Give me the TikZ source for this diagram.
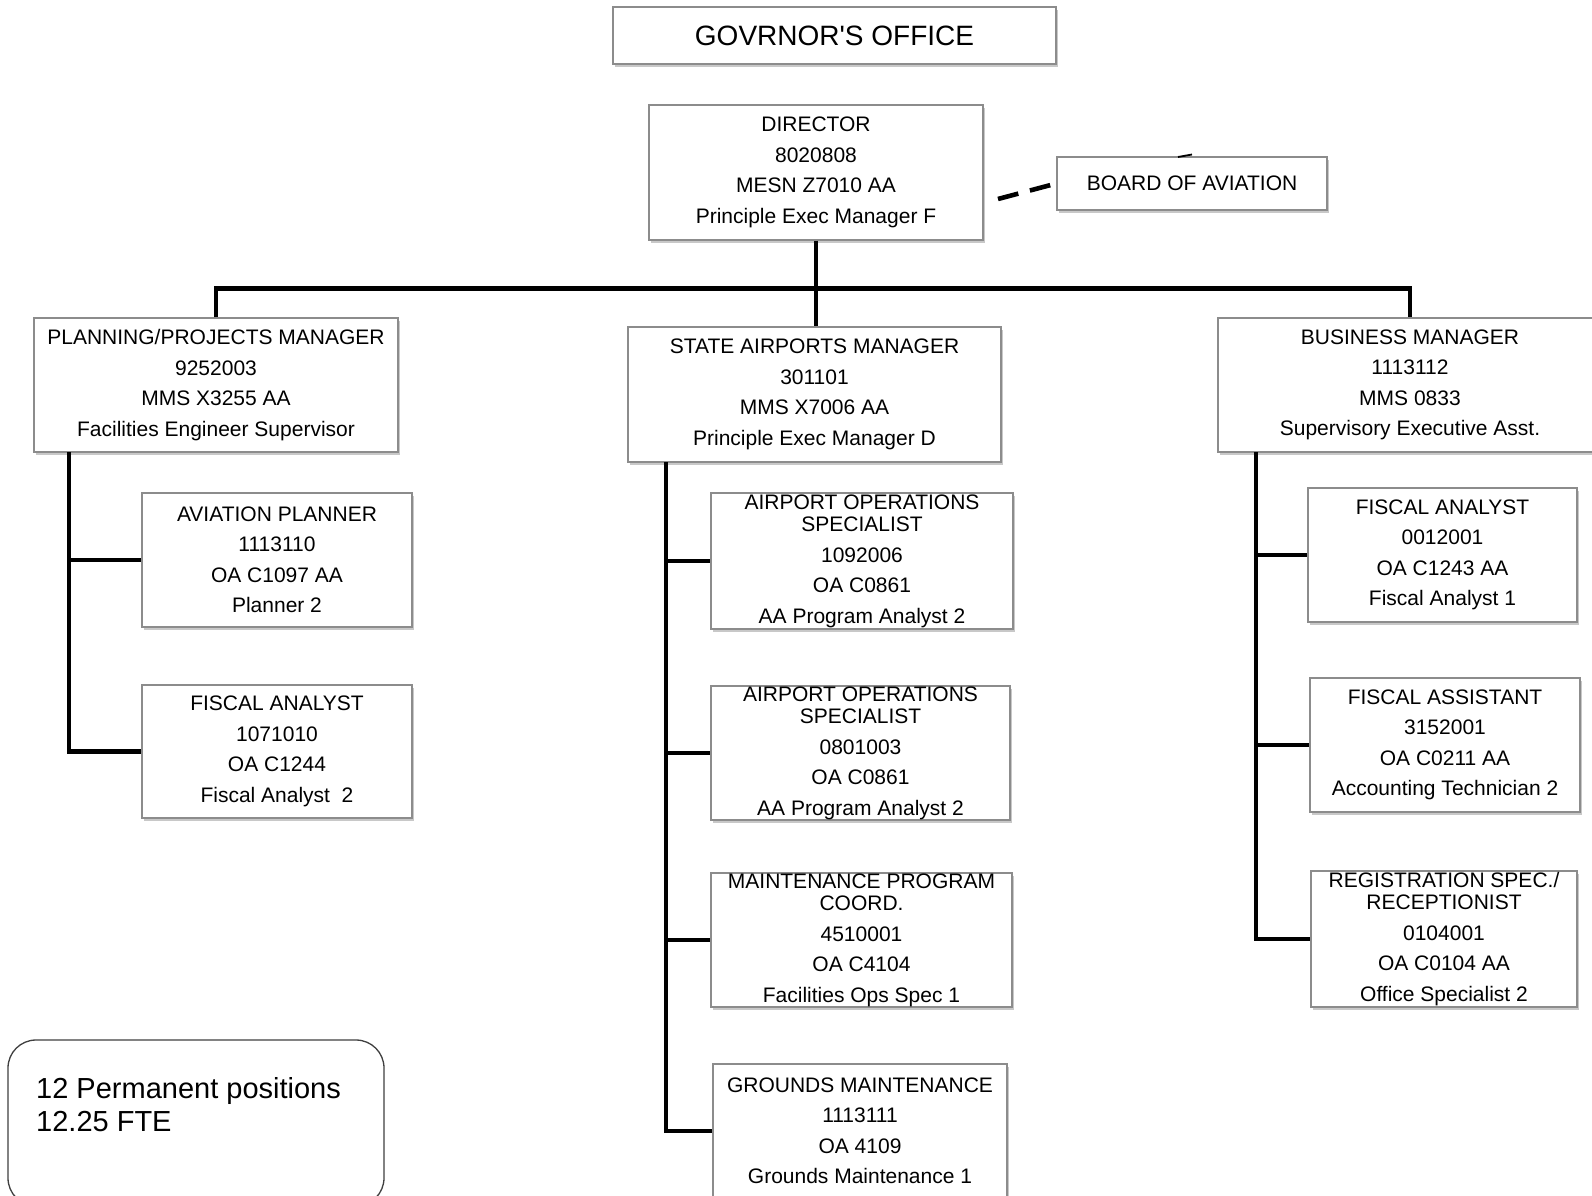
\documentclass[tikz,border=0pt]{standalone}
\usepackage{fontspec}
\setmainfont{Liberation Sans}
\usetikzlibrary{shadows,calc}

\tikzset{
  posbox/.style={draw=black!45, line width=1.3pt, fill=white, inner sep=0pt,
    align=center, font=\fontsize{21}{30.5}\selectfont,
    drop shadow={shadow xshift=1.5pt, shadow yshift=-3pt, opacity=0.3, fill=black!70}},
  conn/.style={line width=4.6pt, line join=miter, draw=black},
  boardlink/.style={line width=4.6pt, draw=black, dash pattern=on 21pt off 12pt},
  notebox/.style={draw=black!75, line width=1.3pt, rounded corners=28pt, fill=white, inner sep=0pt},
  notetext/.style={inner sep=0pt, align=left, font=\fontsize{29}{33}\selectfont},
}

\begin{document}
\begin{tikzpicture}[x=1pt,y=-1pt]
  \useasboundingbox (0,0) rectangle (1592,1196);
  \clip (0,0) rectangle (1592,1196);
  \fill[white] (0,0) rectangle (1592,1196);

  % top of the hierarchy
  \node[posbox, minimum width=443pt, minimum height=57pt, font=\fontsize{28}{30}\selectfont]
    (gov) at (834.5,35.5) {GOVRNOR\textquotesingle S OFFICE};
  \node[posbox, minimum width=334pt, minimum height=135pt]
    (dir) at (816,172.5) {DIRECTOR\\8020808\\MESN Z7010 AA\\Principle Exec Manager F};
  \node[posbox, minimum width=270pt, minimum height=53pt]
    (board) at (1192,183.5) {BOARD OF AVIATION};

  % section managers
  \node[posbox, minimum width=364pt, minimum height=134pt]
    (plan) at (216,385) {PLANNING/PROJECTS MANAGER\\9252003\\MMS X3255 AA\\Facilities Engineer Supervisor};
  \node[posbox, minimum width=373pt, minimum height=135pt]
    (sam) at (814.5,394.5) {STATE AIRPORTS MANAGER\\301101\\MMS X7006 AA\\Principle Exec Manager D};
  \node[posbox, minimum width=384pt, minimum height=134pt]
    (bus) at (1410,385) {BUSINESS MANAGER\\1113112\\MMS 0833\\Supervisory Executive Asst.};

  % planning staff
  \node[posbox, minimum width=270pt, minimum height=134pt]
    (avp) at (277,560) {AVIATION PLANNER\\1113110\\OA C1097 AA\\Planner 2};
  \node[posbox, minimum width=270pt, minimum height=133pt]
    (fal) at (277,751.5) {FISCAL ANALYST\\1071010\\OA C1244\\Fiscal Analyst~ 2};

  % state airports staff
  \node[posbox, minimum width=302pt, minimum height=136pt]
    (aosa) at (862,561) {AIRPORT OPERATIONS\\[-8.2pt]SPECIALIST\\1092006\\OA C0861\\AA Program Analyst 2};
  \node[posbox, minimum width=299pt, minimum height=134pt]
    (aosb) at (860.5,753) {AIRPORT OPERATIONS\\[-8.2pt]SPECIALIST\\0801003\\OA C0861\\AA Program Analyst 2};
  \node[posbox, minimum width=301pt, minimum height=134pt]
    (mpc) at (861.5,940) {MAINTENANCE PROGRAM\\[-8.2pt]COORD.\\4510001\\OA C4104\\Facilities Ops Spec 1};
  \node[posbox, minimum width=294pt, minimum height=134pt]
    (gm) at (860,1131) {GROUNDS MAINTENANCE\\1113111\\OA 4109\\Grounds Maintenance 1};

  % business staff
  \node[posbox, minimum width=269pt, minimum height=134pt]
    (far) at (1442.5,555) {FISCAL ANALYST\\0012001\\OA C1243 AA\\Fiscal Analyst 1};
  \node[posbox, minimum width=270pt, minimum height=134pt]
    (fas) at (1445,745) {FISCAL ASSISTANT\\3152001\\OA C0211 AA\\Accounting Technician 2};
  \node[posbox, minimum width=266pt, minimum height=136pt]
    (reg) at (1444,939) {REGISTRATION SPEC./\\[-8.2pt]RECEPTIONIST\\0104001\\OA C0104 AA\\Office Specialist 2};

  % position count
  \node[notebox, minimum width=376pt, minimum height=166pt] (note) at (196,1123) {};
  \node[notetext, anchor=north west] (notetxt) at (36,1077) {12 Permanent positions\\12.25 FTE};

  % advisory link to the board
  \coordinate (dirlink) at (998,199);
  \draw[boardlink] (dirlink) -- (board.west);
  \draw[line width=1.8pt] (1178,157) -- (1192,154.5);

  % main reporting lines
  \draw[conn] (dir.south) -- (dir.south |- sam.north);
  \draw[conn] (plan.north) -- ++(0,-29) -| (bus.north);

  % planning branch
  \coordinate (lspine) at (69,452);
  \draw[conn] (lspine) |- (fal.west);
  \draw[conn] (lspine |- avp.west) -- (avp.west);

  % state airports branch
  \coordinate (cspine) at (666,462);
  \draw[conn] (cspine) |- (gm.west);
  \draw[conn] (cspine |- aosa.west) -- (aosa.west);
  \draw[conn] (cspine |- aosb.west) -- (aosb.west);
  \draw[conn] (cspine |- mpc.west) -- (mpc.west);

  % business branch
  \coordinate (rspine) at (1256,452);
  \draw[conn] (rspine) |- (reg.west);
  \draw[conn] (rspine |- far.west) -- (far.west);
  \draw[conn] (rspine |- fas.west) -- (fas.west);
\end{tikzpicture}
\end{document}
